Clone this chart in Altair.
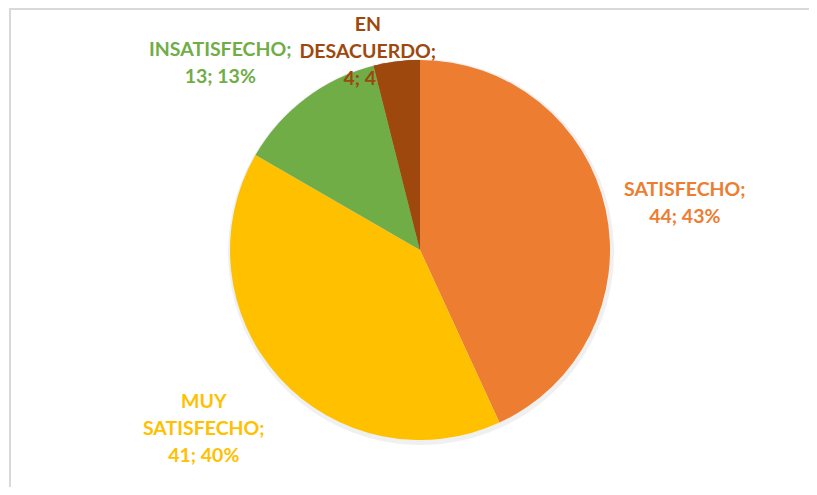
import altair as alt
import pandas as pd

categories = ["SATISFECHO", "MUY SATISFECHO", "INSATISFECHO", "EN DESACUERDO"]
values = [44, 41, 13, 4]
labels = ["SATISFECHO;\n44; 43%", "MUY\nSATISFECHO;\n41; 40%", "INSATISFECHO;\n13; 13%", "EN\nDESACUERDO;\n4; 4%"]
colors = ["#ED7D31", "#FFC000", "#70AD47", "#9E480E"]

df = pd.DataFrame({"cat": categories, "value": values, "label": labels, "order": list(range(len(categories)))})

W, H = 801, 479
CX, CY = 412, 242
R = 190

color_scale = alt.Scale(domain=categories, range=colors)

base = alt.Chart(df).encode(
    theta=alt.Theta("value:Q", stack=True),
    order=alt.Order("order:Q"),
    color=alt.Color("cat:N", scale=color_scale, legend=None),
)

shadow = base.mark_arc(radius=R + 3, opacity=0.06).encode(
    x=alt.value(CX + 1), y=alt.value(CY + 2), color=alt.value("#000000")
)
pie = base.mark_arc(radius=R, stroke=None).encode(x=alt.value(CX), y=alt.value(CY))
# last (smallest) slice redrawn over the labels, as the reference clips the label under it
pie_top = base.mark_arc(radius=R, stroke=None).encode(
    x=alt.value(CX), y=alt.value(CY),
    opacity=alt.condition(alt.datum.cat == categories[-1], alt.value(1), alt.value(0)),
)

label_cfg = {
    "SATISFECHO": (268, 3, -3),
    "MUY SATISFECHO": (275, -13, -33),
    "INSATISFECHO": (275, -34, 19),
    "EN DESACUERDO": (205, -27, -22),
}

text_layers = []
for cat in categories:
    r, dx, dy = label_cfg[cat]
    t = base.mark_text(
        radius=r, dx=dx, dy=dy, font="Lato", fontSize=19.5, fontWeight="bold",
        lineBreak="\n", lineHeight=27, align="center", baseline="middle",
    ).encode(
        x=alt.value(CX), y=alt.value(CY), text="label:N",
        opacity=alt.condition(alt.datum.cat == cat, alt.value(1), alt.value(0)),
    )
    text_layers.append(t)

frame_data = alt.Data(values=[{"a": 1}])
top_line = alt.Chart(frame_data).mark_rule(color="#D9D9D9", strokeWidth=2).encode(
    x=alt.value(1), x2=alt.value(W), y=alt.value(1)
)
left_line = alt.Chart(frame_data).mark_rule(color="#D9D9D9", strokeWidth=2).encode(
    x=alt.value(2), y=alt.value(0), y2=alt.value(H)
)

chart = alt.layer(shadow, pie, *text_layers, pie_top, top_line, left_line).properties(
    width=W, height=H, autosize=alt.AutoSizeParams(type="none"), padding=0
).configure_view(stroke=None)

chart.save("out.html", embed_options={"renderer": "svg", "actions": False})
